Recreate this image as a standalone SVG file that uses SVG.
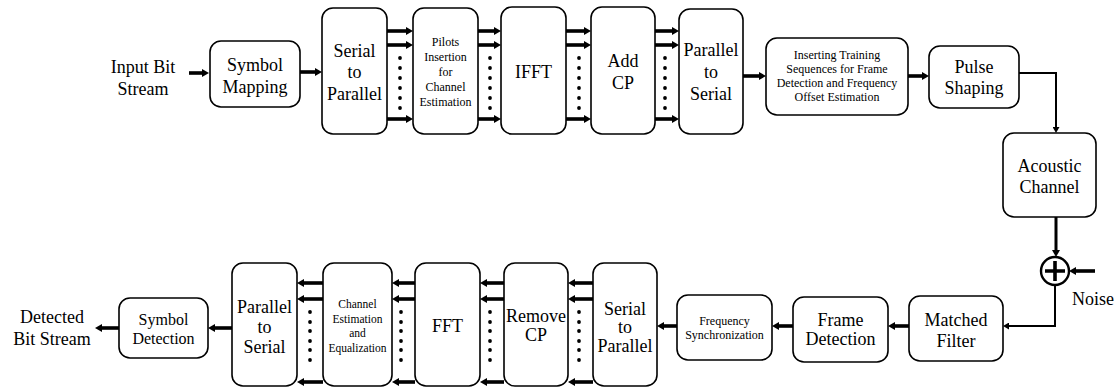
<svg xmlns="http://www.w3.org/2000/svg" width="1115" height="388" viewBox="0 0 1115 388" font-family="'Liberation Serif', 'DejaVu Serif', serif">
  <defs>
    <style>
      .box { fill: #fff; stroke: #000; stroke-width: 1.6; }
      .lbl { font-family: 'Liberation Serif', 'DejaVu Serif', serif; fill: #000; text-anchor: middle; }
      .t18 { font-size: 18px; }
      .t16 { font-size: 16px; }
      .t12 { font-size: 12px; }
      .t11 { font-size: 11.5px; }
      .bus { stroke: #000; stroke-width: 3.6; fill: none; marker-end: url(#head); }
      .thin { stroke: #000; stroke-width: 2; fill: none; marker-end: url(#headS); }
      .dot { fill: #000; }
    </style>
    <marker id="head" markerUnits="userSpaceOnUse" markerWidth="8" markerHeight="8" refX="0" refY="4" orient="auto">
      <path d="M0,0 L7,4 L0,8 Z" fill="#000"/>
    </marker>
    <marker id="headS" markerUnits="userSpaceOnUse" markerWidth="7" markerHeight="7" refX="0" refY="3.5" orient="auto">
      <path d="M0,0 L6,3.5 L0,7 Z" fill="#000"/>
    </marker>
  </defs>

  <!-- free labels -->
  <g id="input-label" class="lbl t18">
    <text x="143" y="73">Input Bit</text>
    <text x="143" y="95">Stream</text>
  </g>
  <g id="output-label" class="lbl t18">
    <text x="52" y="323">Detected</text>
    <text x="52" y="345">Bit Stream</text>
  </g>
  <g id="noise-label" class="lbl t18">
    <text x="1093" y="305">Noise</text>
  </g>

  <!-- transmitter chain -->
  <g id="symbol-mapping" class="lbl t18">
    <rect class="box" x="210" y="41" width="90" height="66" rx="11"/>
    <text x="255" y="71">Symbol</text>
    <text x="255" y="93">Mapping</text>
  </g>
  <g id="tx-serial-to-parallel" class="lbl t18">
    <rect class="box" x="322" y="8" width="65" height="126" rx="11"/>
    <text x="354.5" y="57">Serial</text>
    <text x="354.5" y="78">to</text>
    <text x="354.5" y="100">Parallel</text>
  </g>
  <g id="pilots-insertion" class="lbl t12">
    <rect class="box" x="413" y="8" width="65" height="126" rx="11"/>
    <text x="445.5" y="46">Pilots</text>
    <text x="445.5" y="61">Insertion</text>
    <text x="445.5" y="76">for</text>
    <text x="445.5" y="91">Channel</text>
    <text x="445.5" y="106">Estimation</text>
  </g>
  <g id="ifft" class="lbl t18">
    <rect class="box" x="501" y="7" width="65" height="127" rx="11"/>
    <text x="533.5" y="78">IFFT</text>
  </g>
  <g id="add-cp" class="lbl t18">
    <rect class="box" x="591" y="7" width="64" height="127" rx="11"/>
    <text x="623" y="67">Add</text>
    <text x="623" y="89">CP</text>
  </g>
  <g id="tx-parallel-to-serial" class="lbl t18">
    <rect class="box" x="679" y="9" width="64" height="125" rx="11"/>
    <text x="711" y="56">Parallel</text>
    <text x="711" y="78">to</text>
    <text x="711" y="100">Serial</text>
  </g>
  <g id="training-insertion" class="lbl t12">
    <rect class="box" x="766" y="38" width="142" height="77" rx="11"/>
    <text x="837" y="59">Inserting Training</text>
    <text x="837" y="73">Sequences for Frame</text>
    <text x="837" y="87">Detection and Frequency</text>
    <text x="837" y="101">Offset Estimation</text>
  </g>
  <g id="pulse-shaping" class="lbl t18">
    <rect class="box" x="929" y="46" width="90" height="62" rx="11"/>
    <text x="974" y="73">Pulse</text>
    <text x="974" y="94">Shaping</text>
  </g>
  <g id="acoustic-channel" class="lbl t18">
    <rect class="box" x="1003" y="133" width="93" height="84" rx="11"/>
    <text x="1049.5" y="172">Acoustic</text>
    <text x="1049.5" y="193">Channel</text>
  </g>
  <g id="adder">
    <circle cx="1055" cy="271" r="14" fill="#fff" stroke="#000" stroke-width="2.4"/>
    <path d="M1045,271 H1065 M1055,261 V281" stroke="#000" stroke-width="3.6"/>
  </g>

  <!-- receiver chain -->
  <g id="matched-filter" class="lbl t18">
    <rect class="box" x="909" y="296" width="94" height="65" rx="11"/>
    <text x="956" y="326">Matched</text>
    <text x="956" y="347">Filter</text>
  </g>
  <g id="frame-detection" class="lbl t18">
    <rect class="box" x="793" y="297" width="95" height="65" rx="11"/>
    <text x="840.5" y="326">Frame</text>
    <text x="840.5" y="345">Detection</text>
  </g>
  <g id="frequency-sync" class="lbl t12">
    <rect class="box" x="677" y="295" width="95" height="65" rx="11"/>
    <text x="724.5" y="325">Frequency</text>
    <text x="724.5" y="339">Synchronization</text>
  </g>
  <g id="rx-serial-to-parallel" class="lbl t18">
    <rect class="box" x="593" y="263" width="64" height="123" rx="11"/>
    <text x="625" y="315">Serial</text>
    <text x="625" y="333">to</text>
    <text x="625" y="352">Parallel</text>
  </g>
  <g id="remove-cp" class="lbl t18">
    <rect class="box" x="504" y="263" width="64" height="123" rx="11"/>
    <text x="536" y="322">Remove</text>
    <text x="536" y="341">CP</text>
  </g>
  <g id="fft" class="lbl t18">
    <rect class="box" x="415" y="263" width="65" height="123" rx="11"/>
    <text x="447.5" y="332">FFT</text>
  </g>
  <g id="channel-equalization" class="lbl t11">
    <rect class="box" x="323" y="263" width="69" height="123" rx="11"/>
    <text x="357.5" y="308">Channel</text>
    <text x="357.5" y="323">Estimation</text>
    <text x="357.5" y="337">and</text>
    <text x="357.5" y="352">Equalization</text>
  </g>
  <g id="rx-parallel-to-serial" class="lbl t18">
    <rect class="box" x="232" y="263" width="65" height="123" rx="11"/>
    <text x="264.5" y="313">Parallel</text>
    <text x="264.5" y="333">to</text>
    <text x="264.5" y="353">Serial</text>
  </g>
  <g id="symbol-detection" class="lbl t16">
    <rect class="box" x="119" y="298" width="89" height="60" rx="11"/>
    <text x="163.5" y="325">Symbol</text>
    <text x="163.5" y="344">Detection</text>
  </g>

  <!-- connectors -->
  <g id="connectors">
    <!-- transmitter -->
    <path class="bus" d="M189,73 H202"/>
    <path class="bus" d="M300,72 H315"/>
    <path class="bus" d="M387,31 H406"/>
    <path class="bus" d="M387,45 H406"/>
    <path class="bus" d="M387,119 H406"/>
    <path class="bus" d="M478,31 H494"/>
    <path class="bus" d="M478,45 H494"/>
    <path class="bus" d="M478,119 H494"/>
    <path class="bus" d="M566,31 H584"/>
    <path class="bus" d="M566,45 H584"/>
    <path class="bus" d="M566,119 H584"/>
    <path class="bus" d="M655,31 H672"/>
    <path class="bus" d="M655,45 H672"/>
    <path class="bus" d="M655,119 H672"/>
    <path class="bus" d="M743,76 H759"/>
    <path class="bus" d="M908,76 H922"/>
    <path class="thin" d="M1019,73 H1056 V127"/>
    <path class="bus" style="stroke-width:3" d="M1056,217 V250"/>
    <path class="bus" d="M1095,271 H1076"/>
    <path class="thin" d="M1055,285 V326 H1009"/>
    <!-- receiver -->
    <path class="bus" d="M909,326 H895"/>
    <path class="bus" d="M793,326 H779"/>
    <path class="bus" d="M677,326 H664"/>
    <path class="bus" d="M593,283 H575"/>
    <path class="bus" d="M593,299 H575"/>
    <path class="bus" d="M593,382 H575"/>
    <path class="bus" d="M504,283 H487"/>
    <path class="bus" d="M504,299 H487"/>
    <path class="bus" d="M504,382 H487"/>
    <path class="bus" d="M415,283 H399"/>
    <path class="bus" d="M415,299 H399"/>
    <path class="bus" d="M415,382 H399"/>
    <path class="bus" d="M323,283 H304"/>
    <path class="bus" d="M323,299 H304"/>
    <path class="bus" d="M323,382 H304"/>
    <path class="bus" d="M232,328 H215"/>
    <path class="bus" d="M119,328 H102"/>

    <!-- ellipsis dots between parallel streams -->
    <g class="dot">
      <circle cx="400" cy="58" r="1.9"/><circle cx="400" cy="68" r="1.9"/><circle cx="400" cy="78" r="1.9"/><circle cx="400" cy="88" r="1.9"/><circle cx="400" cy="98" r="1.9"/><circle cx="400" cy="108" r="1.9"/>
      <circle cx="490" cy="58" r="1.9"/><circle cx="490" cy="68" r="1.9"/><circle cx="490" cy="78" r="1.9"/><circle cx="490" cy="88" r="1.9"/><circle cx="490" cy="98" r="1.9"/><circle cx="490" cy="108" r="1.9"/>
      <circle cx="579" cy="58" r="1.9"/><circle cx="579" cy="68" r="1.9"/><circle cx="579" cy="78" r="1.9"/><circle cx="579" cy="88" r="1.9"/><circle cx="579" cy="98" r="1.9"/><circle cx="579" cy="108" r="1.9"/>
      <circle cx="665" cy="58" r="1.9"/><circle cx="665" cy="68" r="1.9"/><circle cx="665" cy="78" r="1.9"/><circle cx="665" cy="88" r="1.9"/><circle cx="665" cy="98" r="1.9"/><circle cx="665" cy="108" r="1.9"/>
      <circle cx="310" cy="312" r="1.9"/><circle cx="310" cy="322" r="1.9"/><circle cx="310" cy="331" r="1.9"/><circle cx="310" cy="341" r="1.9"/><circle cx="310" cy="350" r="1.9"/><circle cx="310" cy="360" r="1.9"/>
      <circle cx="401" cy="312" r="1.9"/><circle cx="401" cy="322" r="1.9"/><circle cx="401" cy="331" r="1.9"/><circle cx="401" cy="341" r="1.9"/><circle cx="401" cy="350" r="1.9"/><circle cx="401" cy="360" r="1.9"/>
      <circle cx="490" cy="312" r="1.9"/><circle cx="490" cy="322" r="1.9"/><circle cx="490" cy="331" r="1.9"/><circle cx="490" cy="341" r="1.9"/><circle cx="490" cy="350" r="1.9"/><circle cx="490" cy="360" r="1.9"/>
      <circle cx="579" cy="312" r="1.9"/><circle cx="579" cy="322" r="1.9"/><circle cx="579" cy="331" r="1.9"/><circle cx="579" cy="341" r="1.9"/><circle cx="579" cy="350" r="1.9"/><circle cx="579" cy="360" r="1.9"/>
    </g>
  </g>
</svg>
